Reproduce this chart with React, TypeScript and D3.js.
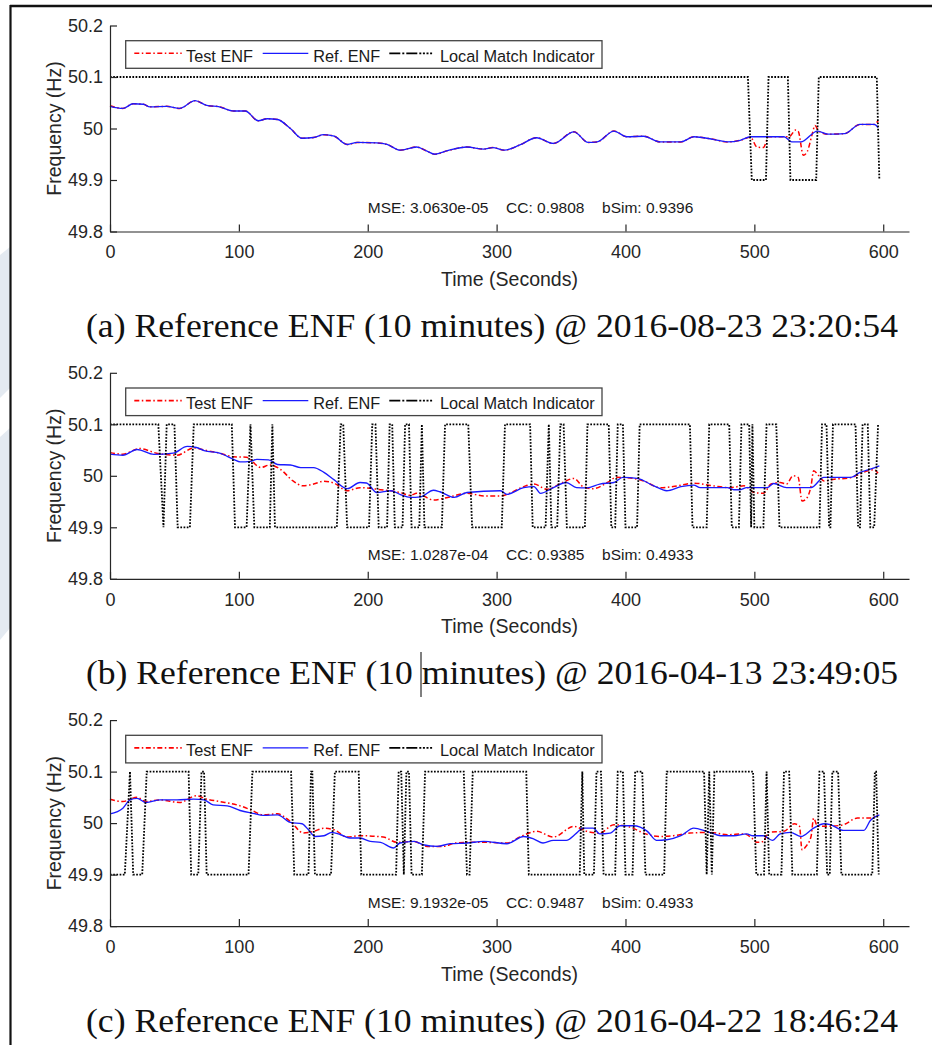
import React, { useEffect, useRef } from 'react'
import * as d3 from 'd3'

type Pt = [number, number]

const xTicks = [0, 100, 200, 300, 400, 500, 600]
const yTicks = [49.8, 49.9, 50, 50.1, 50.2]
const legendLabels = ['Test ENF', 'Ref. ENF', 'Local Match Indicator']

const captions = [
  '(a) Reference ENF (10 minutes) @ 2016-08-23 23:20:54',
  '(b) Reference ENF (10 minutes) @ 2016-04-13 23:49:05',
  '(c) Reference ENF (10 minutes) @ 2016-04-22 18:46:24',
]

const statsA = ['MSE: 3.0630e-05', 'CC: 0.9808', 'bSim: 0.9396']
const statsB = ['MSE: 1.0287e-04', 'CC: 0.9385', 'bSim: 0.4933']
const statsC = ['MSE: 9.1932e-05', 'CC: 0.9487', 'bSim: 0.4933']

// [time (s), frequency (Hz)]
const refA: Pt[] = [[0,50.043],[10,50.039],[18,50.048],[26,50.047],[31,50.042],[44,50.043],[54,50.039],[66,50.054],[75,50.045],[85,50.042],[96,50.034],[105,50.034],[115,50.015],[122,50.019],[130,50.0175],[140,50.0],[149,49.981],[158,49.9825],[166,49.988],[174,49.985],[184,49.969],[192,49.973],[207,49.972],[215,49.969],[225,49.958],[238,49.964],[246,49.956],[252,49.95],[262,49.957],[277,49.964],[290,49.96],[297,49.963],[306,49.958],[318,49.968],[331,49.982],[344,49.971],[360,49.9935],[371,49.973],[378,49.974],[391,49.995],[401,49.984],[414,49.985],[427,49.974],[443,49.974],[453,49.984],[468,49.979],[479,49.974],[489,49.977],[497,49.984],[510,49.984],[523,49.984],[529,49.974],[536,49.974],[549,49.995],[557,49.989],[570,49.99],[582,50.008],[593,50.008],[596,50.002]]
const testA: Pt[] = [[0,50.044],[10,50.039],[18,50.048],[26,50.047],[31,50.042],[44,50.043],[54,50.039],[66,50.054],[75,50.045],[85,50.042],[96,50.034],[105,50.034],[115,50.015],[122,50.019],[130,50.0175],[140,50.0],[149,49.981],[158,49.9825],[166,49.988],[174,49.985],[184,49.969],[192,49.973],[207,49.972],[215,49.969],[225,49.958],[238,49.964],[246,49.956],[252,49.95],[262,49.957],[277,49.964],[290,49.96],[297,49.963],[306,49.958],[318,49.968],[331,49.982],[344,49.971],[360,49.9935],[371,49.973],[378,49.974],[391,49.995],[401,49.984],[414,49.985],[427,49.974],[443,49.974],[453,49.984],[468,49.979],[479,49.974],[489,49.977],[497,49.983],[502,49.964],[507,49.963],[511,49.984],[527,49.984],[532,49.997],[534,49.995],[538,49.948],[541,49.955],[545,49.99],[547,50.006],[550,49.995],[557,49.989],[570,49.99],[582,50.008],[593,50.008],[596,50.015]]

const refB: Pt[] = [[0,50.042],[10,50.04],[21,50.051],[34,50.0415],[49,50.044],[60,50.057],[67,50.055],[73,50.049],[85,50.044],[96,50.032],[101,50.027],[109,50.028],[114,50.032],[123,50.031],[130,50.022],[140,50.021],[148,50.016],[158,50.016],[166,50.0065],[174,49.992],[184,49.975],[194,49.987],[199,49.986],[207,49.9675],[218,49.971],[225,49.964],[233,49.958],[241,49.959],[251,49.972],[256,49.969],[267,49.958],[277,49.9675],[303,49.971],[308,49.964],[321,49.977],[329,49.979],[334,49.966],[344,49.977],[354,49.987],[362,49.977],[370,49.9766],[380,49.984],[391,49.987],[398,49.997],[409,49.995],[422,49.9805],[432,49.971],[443,49.979],[453,49.982],[458,49.977],[479,49.977],[484,49.973],[489,49.973],[494,49.977],[510,49.977],[515,49.985],[525,49.977],[544,49.977],[554,49.997],[564,49.997],[575,49.997],[582,50.0065],[590,50.013],[597,50.0195]]
const testB: Pt[] = [[0,50.045],[10,50.042],[23,50.053],[36,50.044],[52,50.04],[65,50.054],[75,50.049],[85,50.044],[96,50.037],[106,50.036],[117,50.016],[124,50.021],[132,50.013],[142,49.99],[150,49.9805],[158,49.984],[166,49.9896],[174,49.9857],[184,49.971],[194,49.977],[210,49.973],[225,49.9675],[233,49.962],[238,49.966],[251,49.953],[262,49.958],[277,49.966],[290,49.961],[303,49.961],[310,49.966],[321,49.979],[329,49.984],[339,49.974],[352,49.988],[360,49.995],[367,49.979],[375,49.975],[386,49.987],[393,49.997],[406,49.995],[414,49.99],[427,49.977],[437,49.979],[453,49.9857],[468,49.9805],[481,49.977],[492,49.9805],[500,49.9675],[507,49.966],[513,49.984],[520,49.987],[525,49.984],[530,50.0],[534,49.997],[537,49.951],[540,49.9545],[544,49.9805],[546,50.0097],[550,50.0],[554,49.99],[562,49.9935],[572,49.995],[580,50.0013],[588,50.0097],[593,50.0117],[596,50.005]]

const refC: Pt[] = [[0,50.018],[10,50.029],[15.5,50.045],[21,50.048],[28,50.04],[39,50.045],[52,50.045],[65,50.0465],[73,50.045],[80,50.0355],[91,50.0335],[101,50.0245],[111,50.019],[119,50.015],[130,50.016],[140,50.0013],[149,49.9987],[154,49.987],[159,49.974],[166,49.9755],[172,49.982],[179,49.9774],[186,49.971],[194,49.971],[202,49.9645],[210,49.9626],[220,49.9516],[225,49.9613],[236,49.9645],[243,49.958],[254,49.9548],[264,49.96],[277,49.9613],[290,49.9645],[308,49.96],[321,49.974],[329,49.969],[336,49.9613],[344,49.9665],[354,49.9665],[362,49.9806],[367,49.9903],[375,49.9903],[380,49.979],[388,49.9806],[396,49.9948],[406,49.9948],[417,49.984],[424,49.9665],[432,49.9677],[443,49.9755],[453,49.9903],[463,49.984],[474,49.9755],[484,49.9755],[494,49.979],[499,49.9755],[507,49.9755],[514,49.9665],[520,49.979],[528,49.982],[536,49.974],[546,49.9903],[554,49.9987],[559,49.997],[569,49.9858],[585,49.9858],[590,50.005],[597,50.016]]
const testC: Pt[] = [[0,50.0465],[10,50.042],[21,50.05],[28,50.042],[39,50.045],[54,50.04],[67,50.053],[75,50.0465],[85,50.042],[101,50.0335],[109,50.026],[119,50.016],[130,50.018],[140,50.003],[150,49.981],[158,49.984],[166,49.99],[174,49.987],[184,49.973],[194,49.9755],[212,49.973],[223,49.9626],[236,49.9645],[246,49.9548],[259,49.9548],[267,49.961],[277,49.9626],[292,49.9626],[308,49.9613],[318,49.973],[331,49.984],[344,49.973],[360,49.9935],[370,49.984],[380,49.9806],[391,49.9968],[404,49.992],[414,49.9806],[427,49.974],[437,49.9755],[450,49.9806],[466,49.982],[479,49.9774],[492,49.979],[498,49.971],[502,49.9626],[507,49.9645],[511,49.982],[523,49.984],[531,49.9987],[535,49.994],[537,49.948],[540,49.9548],[544,49.974],[546,50.0097],[549,49.994],[559,49.994],[569,49.9968],[580,50.0097],[590,50.0097],[596,50.016]]

// local match indicator: [time, 1 = match / 0 = no match]
const matchA: Pt[] = [[0,1],[495,1],[498,0],[509,0],[511,1],[526,1],[528,0],[548,0],[550,1],[595,1],[597,0]]
const matchB: Pt[] = [[0,1],[37.5,1],[41.5,0],[44,1],[50,1],[52.5,0],[62,0],[65,1],[94.5,1],[97,0],[106,0],[109,1],[112,0],[124,0],[126,1],[128,0],[176,0],[179,1],[181,1],[184,0],[201,0],[203.5,1],[206,1],[208.5,0],[215,0],[217,1],[219,1],[221,0],[227,0],[229,1],[232,1],[234,0],[240,0],[242,1],[244,0],[257.5,0],[260,1],[278,1],[281,0],[304,0],[306.5,1],[326,1],[328,0],[338,0],[340.5,1],[342.5,0],[347,0],[349.5,1],[352,1],[354.5,0],[368.5,0],[370.5,1],[387,1],[389,0],[392,0],[394,1],[398,1],[400,0],[409,0],[411,1],[450,1],[452,0],[463,0],[465,1],[480.5,1],[482.5,0],[488,0],[490,1],[496,1],[497.5,0],[498.5,1],[500,0],[507,0],[509.5,1],[517,1],[519.5,0],[550.5,0],[552.5,1],[556,1],[558,0],[559,0],[561,1],[578.5,1],[580.5,0],[582,0],[584,1],[588,1],[590,0],[593,0],[596,1]]
const matchC: Pt[] = [[0,0],[11.5,0],[15.5,1],[18,0],[25,0],[28.5,1],[61,1],[63,0],[68.5,0],[71,1],[73,1],[75,0],[107.5,0],[110.5,1],[140.5,1],[143,0],[154,0],[156,1],[157,1],[159,0],[171.5,0],[174.5,1],[193,1],[195,0],[222,0],[224,1],[226,1],[228,0],[230,1],[232,1],[234,0],[242,0],[244.5,1],[274.5,1],[277,0],[279,0],[281.5,1],[323,1],[325,0],[364.5,0],[366.5,1],[368,0],[375.5,0],[377.5,1],[381,1],[383,0],[392,0],[394,1],[398,1],[400,0],[405.5,0],[407.5,1],[413,1],[415.5,0],[430,0],[432,1],[461,1],[463,0],[465,1],[467,0],[469,1],[499,1],[501.5,0],[507.5,0],[509.5,1],[511.5,0],[521,0],[523,1],[527,1],[529.5,0],[548.5,0],[550.5,1],[554,1],[556.5,0],[558.5,0],[560.5,1],[565,1],[567.5,0],[591.5,0],[593.5,1],[594.5,1],[596.5,0]]

const panels = [
  { test: testA, ref: refA, match: matchA, stats: statsA },
  { test: testB, ref: refB, match: matchB, stats: statsB },
  { test: testC, ref: refC, match: matchC, stats: statsC },
]

const SANS = "'Liberation Sans', Arial, sans-serif"
const SERIF = "'Liberation Serif', 'Times New Roman', serif"

export default function App() {
  const svgRef = useRef<SVGSVGElement>(null)

  useEffect(() => {
    const svg = d3.select(svgRef.current)
    svg.selectAll('*').remove()

    // page decoration on the left edge + frame
    svg.append('path').attr('d', 'M0,255L10,247L10,388L0,398Z').attr('fill', '#e4eaf1')
    svg.append('path').attr('d', 'M0,437L10,428L10,628L0,640Z').attr('fill', '#e4eaf1')
    svg.append('line').attr('x1', 10).attr('x2', 932).attr('y1', 6).attr('y2', 6)
      .attr('stroke', '#111').attr('stroke-width', 2.4)
    svg.append('line').attr('x1', 10.5).attr('x2', 10.5).attr('y1', 5).attr('y2', 1045)
      .attr('stroke', '#111').attr('stroke-width', 2.2)

    const x = d3.scaleLinear().domain([0, 620]).range([110, 909])

    panels.forEach((p, i) => {
      const top = 25.5 + i * 347.3
      const y = d3.scaleLinear().domain([49.8, 50.2]).range([top + 206, top])
      const g = svg.append('g')

      const line = d3.line<Pt>().x(d => x(d[0])).y(d => y(d[1])).curve(d3.curveMonotoneX)
      const mline = d3.line<Pt>().x(d => x(d[0])).y(d => y(d[1] ? 50.1 : 49.9))

      g.append('path').attr('d', line(p.test)).attr('fill', 'none')
        .attr('stroke', '#ff0000').attr('stroke-width', 1.5).attr('stroke-dasharray', '5,2.5,1.5,2.5')
      g.append('path').attr('d', line(p.ref)).attr('fill', 'none')
        .attr('stroke', '#1a1aff').attr('stroke-width', 1.35)
      g.append('path').attr('d', mline(p.match)).attr('fill', 'none')
        .attr('stroke', '#000').attr('stroke-width', 1.8).attr('stroke-dasharray', '1.7,1.5')

      // axes
      const xa = g.append('g').attr('transform', `translate(0,${y(49.8)})`)
        .call(d3.axisBottom(x).tickValues(xTicks).tickSize(-7).tickSizeOuter(0).tickPadding(14))
      const ya = g.append('g').attr('transform', `translate(${x(0)},0)`)
        .call(d3.axisLeft(y).tickValues(yTicks).tickSize(-7).tickSizeOuter(0).tickPadding(7)
          .tickFormat(d => String(d)))
      ;[xa, ya].forEach(a => {
        a.attr('color', '#262626').attr('font-family', SANS).attr('font-size', 18)
        a.selectAll('path,line').attr('stroke-width', 1.2)
      })

      g.append('text').attr('x', (x(0) + x(620)) / 2).attr('y', y(49.8) + 54.5)
        .attr('text-anchor', 'middle').attr('font-family', SANS).attr('font-size', 19.5)
        .attr('fill', '#262626').text('Time (Seconds)')
      g.append('text').attr('transform', `translate(60.5,${top + 103}) rotate(-90)`)
        .attr('text-anchor', 'middle').attr('font-family', SANS).attr('font-size', 19.5)
        .attr('fill', '#262626').text('Frequency (Hz)')

      // stats
      const statX = [200, 307.3, 381.8]
      p.stats.forEach((s, k) => {
        g.append('text').attr('x', x(statX[k])).attr('y', y(49.8) - 18.5)
          .attr('font-family', SANS).attr('font-size', 15.5).attr('fill', '#1a1a1a').text(s)
      })

      // legend
      const lg = g.append('g').attr('transform', `translate(125.7,${top + 15.2})`)
      lg.append('rect').attr('width', 476.3).attr('height', 27.6)
        .attr('fill', '#fff').attr('stroke', '#444').attr('stroke-width', 1.3)
      const items = [
        { x0: 8.6, x1: 56, tx: 60.3, stroke: '#ff0000', dash: '5,2.5,1.5,2.5', w: 1.6 },
        { x0: 137, x1: 182.6, tx: 187.6, stroke: '#1a1aff', dash: null, w: 1.3 },
        { x0: 263.6, x1: 310.3, tx: 314.3, stroke: '#000', dash: '11,2,2,2,11,2,2,1.6,2,1.6,2,1.6,2', w: 1.8 },
      ]
      items.forEach((it, k) => {
        lg.append('line').attr('x1', it.x0).attr('x2', it.x1).attr('y1', 12.6).attr('y2', 12.6)
          .attr('stroke', it.stroke).attr('stroke-width', it.w)
          .attr('stroke-dasharray', it.dash)
        lg.append('text').attr('x', it.tx).attr('y', 21).attr('font-family', SANS)
          .attr('font-size', 16.3).attr('fill', '#1a1a1a').text(legendLabels[k])
      })

      // caption
      svg.append('text').attr('x', 86).attr('y', top + 311.6)
        .attr('font-family', SERIF).attr('font-size', 33).attr('fill', '#111')
        .attr('textLength', 812).attr('lengthAdjust', 'spacingAndGlyphs')
        .text(captions[i])
    })

    // text cursor left in caption (b)
    svg.append('line').attr('x1', 421).attr('x2', 421).attr('y1', 652).attr('y2', 697)
      .attr('stroke', '#000').attr('stroke-width', 1)
  }, [])

  return (
    <div style={{ position: 'absolute', left: 0, top: 0, width: 932, height: 1045, background: '#fff' }}>
      <svg ref={svgRef} width={932} height={1045} style={{ display: 'block' }}></svg>
    </div>
  )
}
